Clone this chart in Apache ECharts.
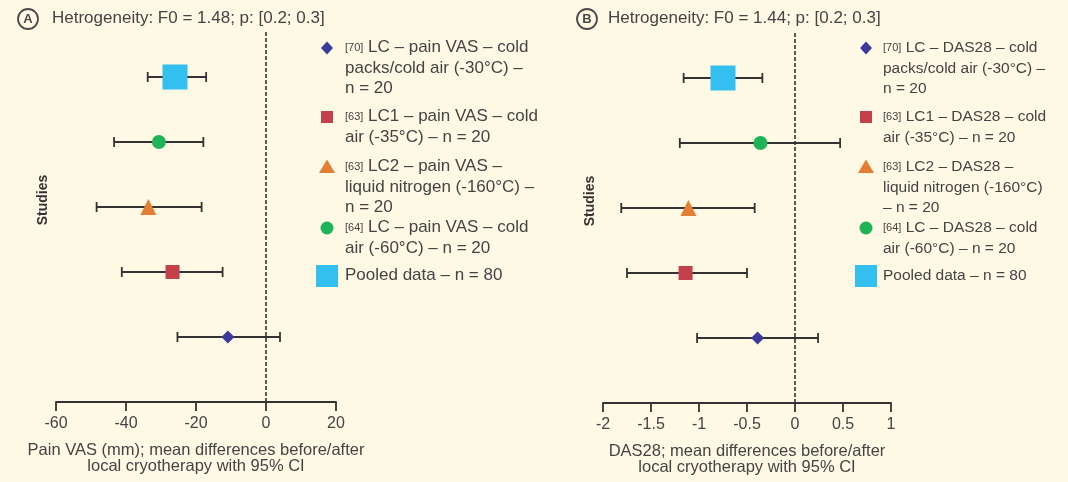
<!DOCTYPE html>
<html><head><meta charset="utf-8">
<script src="https://cdn.jsdelivr.net/npm/echarts@6/dist/echarts.min.js"></script>
<style>html,body{margin:0;padding:0;background:#fdf9e5;}#c{width:1068px;height:482px;}</style>
</head><body><div id="c"></div>
<script>
// Rows from bottom (1) to top (5)
const rows = [1, 2, 3, 4, 5];
const studies = ['[70] LC', '[63] LC1', '[63] LC2', '[64] LC', 'Pooled data'];
const colors = ['#3b3a9c', '#c4414b', '#e57e35', '#1fb457', '#33bfef'];
const symbols = ['diamond', 'rect', 'triangle', 'circle', 'rect'];
const symbolSizes = [13, 14, 16, 14, 25];

// Panel A: Pain VAS (mm)
const vasMean = [-10.9, -26.7, -33.6, -30.6, -26.0];
const vasLow  = [-25.3, -41.2, -48.4, -43.4, -33.8];
const vasHigh = [4.0, -12.4, -18.4, -17.9, -17.1];
const vasTicks = { min: -60, max: 20, interval: 20 };

// Panel B: DAS28
const dasMean = [-0.39, -1.14, -1.11, -0.36, -0.75];
const dasLow  = [-1.02, -1.75, -1.81, -1.20, -1.16];
const dasHigh = [0.24, -0.50, -0.42, 0.47, -0.34];
const dasTicks = { min: -2, max: 1, interval: 0.5 };

const titleA = 'Hetrogeneity: F0 = 1.48; p: [0.2; 0.3]';
const titleB = 'Hetrogeneity: F0 = 1.44; p: [0.2; 0.3]';
const xNameA = 'Pain VAS (mm); mean differences before/after\nlocal cryotherapy with 95% CI';
const xNameB = 'DAS28; mean differences before/after\nlocal cryotherapy with 95% CI';

const legendA = [
  ['[70]', ['LC – pain VAS – cold', 'packs/cold air (-30°C) –', 'n = 20']],
  ['[63]', ['LC1 – pain VAS – cold', 'air (-35°C) – n = 20']],
  ['[63]', ['LC2 – pain VAS –', 'liquid nitrogen (-160°C) –', 'n = 20']],
  ['[64]', ['LC – pain VAS – cold', 'air (-60°C) – n = 20']],
  ['', ['Pooled data – n = 80']]
];
const legendB = [
  ['[70]', ['LC – DAS28 – cold', 'packs/cold air (-30°C) –', 'n = 20']],
  ['[63]', ['LC1 – DAS28 – cold', 'air (-35°C) – n = 20']],
  ['[63]', ['LC2 – DAS28 –', 'liquid nitrogen (-160°C)', '– n = 20']],
  ['[64]', ['LC – DAS28 – cold', 'air (-60°C) – n = 20']],
  ['', ['Pooled data – n = 80']]
];
const legendTops = [48, 117, 167, 228, 276];

const FONT = '"Liberation Sans", Arial, sans-serif';
const TXT = '#444444';
const AX = '#333333';

function errRender(params, api) {
  const lo = api.coord([api.value(0), api.value(2)]);
  const hi = api.coord([api.value(1), api.value(2)]);
  const h = 5;
  const style = { stroke: AX, lineWidth: 1.8 };
  return { type: 'group', children: [
    { type: 'line', shape: { x1: lo[0], y1: lo[1], x2: hi[0], y2: hi[1] }, style },
    { type: 'line', shape: { x1: lo[0], y1: lo[1] - h, x2: lo[0], y2: lo[1] + h }, style },
    { type: 'line', shape: { x1: hi[0], y1: hi[1] - h, x2: hi[0], y2: hi[1] + h }, style }
  ]};
}

function xAxisFor(idx, ticks, name) {
  return {
    type: 'value', gridIndex: idx, min: ticks.min, max: ticks.max, interval: ticks.interval,
    axisLine: { show: true, onZero: false, lineStyle: { color: AX, width: 1.8 } },
    axisTick: { show: true, inside: false, length: 9, lineStyle: { color: AX, width: 1.8 } },
    splitLine: { show: false },
    axisLabel: { fontSize: 16, color: TXT, margin: 14, fontFamily: FONT },
    name: name, nameLocation: 'middle', nameGap: 40,
    nameTextStyle: { fontSize: 16.5, color: TXT, lineHeight: 16, fontFamily: FONT }
  };
}
function yAxisFor(idx) {
  return {
    type: 'value', gridIndex: idx, min: 0, max: 6,
    axisLine: { show: false }, axisTick: { show: false }, axisLabel: { show: false }, splitLine: { show: false },
    name: 'Studies', nameLocation: 'middle', nameRotate: 90, nameGap: 6,
    nameTextStyle: { fontSize: 14, fontWeight: 'bold', color: '#333', fontFamily: FONT, padding: [0, 0, 0, 14] }
  };
}

function panelSeries(idx, mean, low, high) {
  const out = [];
  out.push({
    type: 'line', xAxisIndex: idx, yAxisIndex: idx, symbol: 'none', silent: true,
    data: [[0, 0], [0, 5.7]], lineStyle: { color: AX, width: 1.6, type: [4, 2] }, z: 1
  });
  out.push({
    type: 'custom', xAxisIndex: idx, yAxisIndex: idx, renderItem: errRender,
    encode: { x: [0, 1], y: 2 },
    data: rows.map((r, i) => [low[i], high[i], r]), z: 2
  });
  rows.forEach((r, i) => {
    out.push({
      type: 'scatter', name: studies[i], xAxisIndex: idx, yAxisIndex: idx,
      symbol: symbols[i], symbolSize: symbolSizes[i],
      itemStyle: { color: colors[i], opacity: 1 },
      data: [[mean[i], r]], z: 3
    });
  });
  return out;
}

function legendGraphics(entries, iconX, textX, fs) {
  const g = [];
  entries.forEach((e, i) => {
    const cy = legendTops[i];
    const c = colors[i];
    const s = symbols[i];
    if (i === 4) {
      g.push({ type: 'rect', shape: { x: iconX - 11, y: cy - 11, width: 22, height: 22 }, style: { fill: c } });
    } else if (s === 'diamond') {
      g.push({ type: 'polygon', shape: { points: [[iconX, cy - 6.5], [iconX + 6, cy], [iconX, cy + 6.5], [iconX - 6, cy]] }, style: { fill: c } });
    } else if (s === 'rect') {
      g.push({ type: 'rect', shape: { x: iconX - 6, y: cy - 6, width: 12, height: 12 }, style: { fill: c } });
    } else if (s === 'triangle') {
      g.push({ type: 'polygon', shape: { points: [[iconX, cy - 7.5], [iconX + 8, cy + 6], [iconX - 8, cy + 6]] }, style: { fill: c } });
    } else {
      g.push({ type: 'circle', shape: { cx: iconX, cy: cy, r: 6.5 }, style: { fill: c } });
    }
    const ref = e[0];
    const lines = e[1];
    let txt = (ref ? '{r|' + ref + '}{t| ' + lines[0] + '}' : '{t|' + lines[0] + '}');
    for (let k = 1; k < lines.length; k++) txt += '\n{t|' + lines[k] + '}';
    g.push({
      type: 'text', x: textX, y: cy - 10.5,
      style: {
        text: txt, fill: TXT, fontFamily: FONT, fontSize: fs, lineHeight: 20.5, verticalAlign: 'top',
        rich: { r: { fontSize: 11, fill: TXT, fontFamily: FONT, lineHeight: 20.5 }, t: { fontSize: fs, fill: TXT, fontFamily: FONT, lineHeight: 20.5 } }
      }
    });
  });
  return g;
}

function titleGraphics(letter, cx, text, tx) {
  return [
    { type: 'circle', shape: { cx: cx, cy: 19, r: 10 }, style: { fill: 'none', stroke: '#4a4a4a', lineWidth: 1.8 } },
    { type: 'text', x: cx, y: 19, style: { text: letter, fill: '#4a4a4a', fontSize: 13, fontWeight: 'bold', fontFamily: FONT, align: 'center', verticalAlign: 'middle' } },
    { type: 'text', x: tx, y: 18, style: { text: text, fill: TXT, fontSize: 17, fontFamily: FONT, verticalAlign: 'middle' } }
  ];
}

const chart = echarts.init(document.getElementById('c'), null, { renderer: 'canvas' });
chart.setOption({
  backgroundColor: '#fdf9e5',
  animation: false,
  grid: [
    { left: 56, width: 280, top: 12, height: 390 },
    { left: 603, width: 288, top: 13, height: 390 }
  ],
  xAxis: [xAxisFor(0, vasTicks, xNameA), xAxisFor(1, dasTicks, xNameB)],
  yAxis: [yAxisFor(0), yAxisFor(1)],
  series: panelSeries(0, vasMean, vasLow, vasHigh).concat(panelSeries(1, dasMean, dasLow, dasHigh)),
  graphic: [].concat(
    titleGraphics('A', 28, titleA, 52),
    titleGraphics('B', 587, titleB, 608),
    legendGraphics(legendA, 327, 345, 17),
    legendGraphics(legendB, 866, 883, 15.5)
  )
});
</script></body></html>
